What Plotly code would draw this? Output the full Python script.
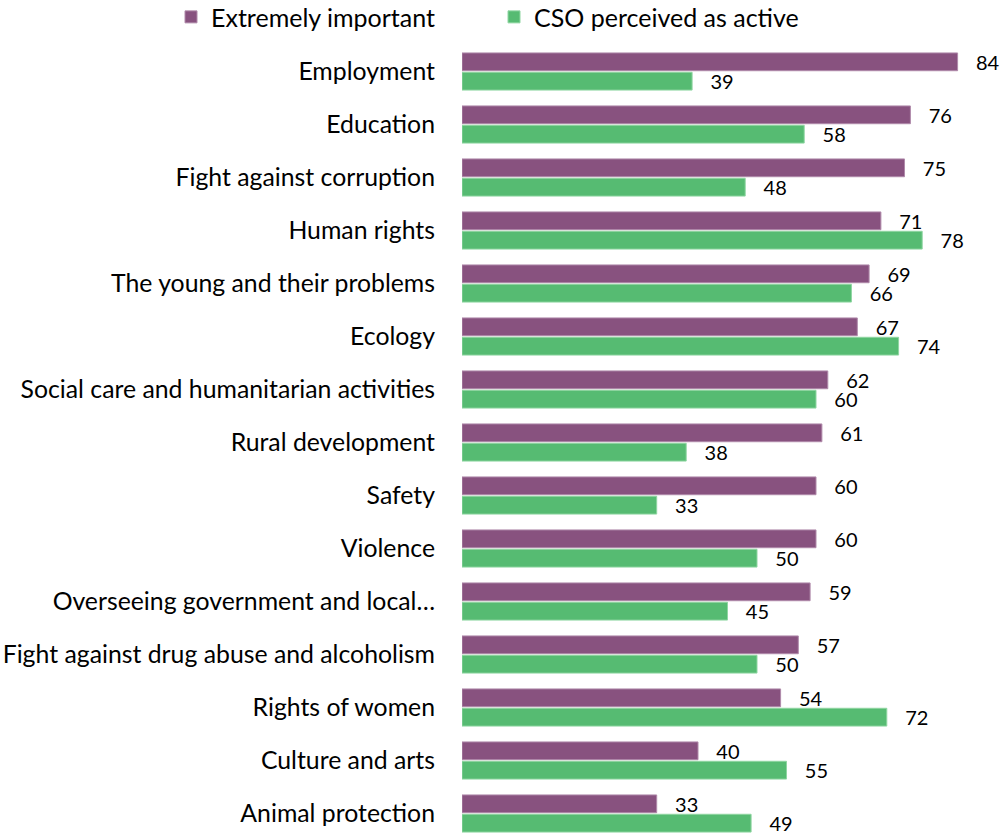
import plotly.graph_objects as go

categories = [
    "Employment",
    "Education",
    "Fight against corruption",
    "Human rights",
    "The young and their problems",
    "Ecology",
    "Social care and humanitarian activities",
    "Rural development",
    "Safety",
    "Violence",
    "Overseeing government and local…",
    "Fight against drug abuse and alcoholism",
    "Rights of women",
    "Culture and arts",
    "Animal protection",
]
extremely_important = [84, 76, 75, 71, 69, 67, 62, 61, 60, 60, 59, 57, 54, 40, 33]
cso_active = [39, 58, 48, 78, 66, 74, 60, 38, 33, 50, 45, 50, 72, 55, 49]

PURPLE = "#88527F"
GREEN = "#56BB72"
FONT = "Lato"

fig = go.Figure()
for name, vals, col, edge in [
    ("Extremely important", extremely_important, PURPLE, "#B08AAA"),
    ("CSO perceived as active", cso_active, GREEN, "#8FD6A2"),
]:
    fig.add_trace(go.Bar(
        y=categories,
        x=vals,
        name=name,
        orientation="h",
        marker=dict(color=col, line=dict(color=edge, width=1)),
        text=vals,
        texttemplate="\u00a0\u00a0\u00a0%{text}",
        textposition="outside",
        constraintext="none",
        textfont=dict(family=FONT, size=20, color="#000000"),
        cliponaxis=False,
    ))

fig.update_layout(
    width=1000,
    height=840,
    barmode="group",
    bargap=0.27,
    bargroupgap=0.08,
    plot_bgcolor="white",
    paper_bgcolor="white",
    font=dict(family=FONT, size=24.8, color="#000000"),
    margin=dict(l=462, r=7, t=45, b=0, autoexpand=False),
    showlegend=True,
    legend=dict(
        orientation="h",
        x=-0.548,
        xanchor="left",
        y=1.064,
        yanchor="top",
        font=dict(family=FONT, size=25),
        traceorder="normal",
        entrywidth=278,
    ),
    xaxis=dict(range=[0, 90], visible=False),
    yaxis=dict(
        categoryorder="array",
        categoryarray=categories,
        range=[14.5, -0.5],
        showline=False,
        showgrid=False,
        ticks="",
        ticklabelstandoff=26,
        tickfont=dict(family=FONT, size=24.8),
    ),
)

fig.write_html("out.html")
